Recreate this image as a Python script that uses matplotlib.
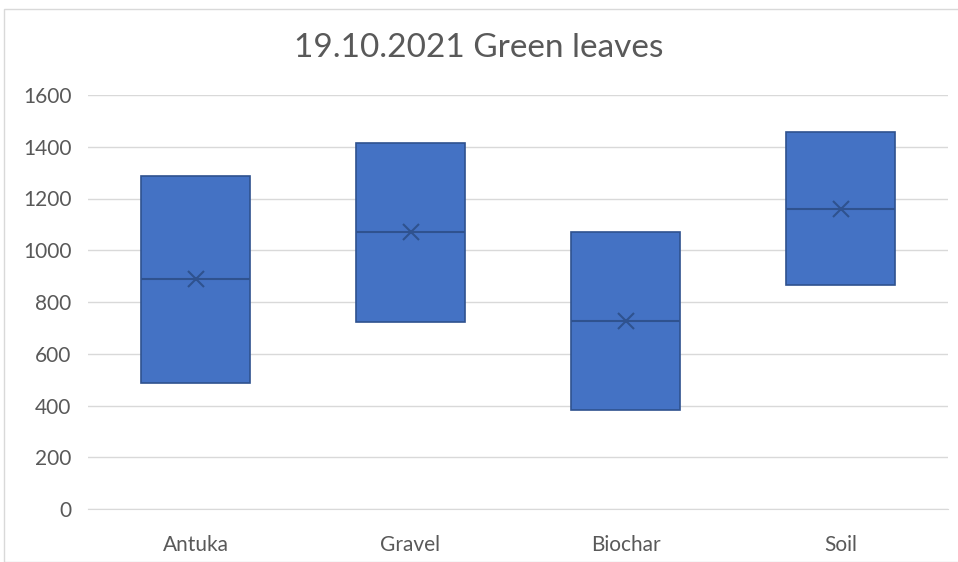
import matplotlib.pyplot as plt
import matplotlib.patches as mpatches

categories = ['Antuka', 'Gravel', 'Biochar', 'Soil']
q1 = [487, 723, 383, 866]
q3 = [1287, 1414, 1071, 1457]
median = [889, 1071, 727, 1159]
mean = [889, 1071, 727, 1159]

plt.rcParams['font.family'] = ['Lato', 'DejaVu Sans']

fig = plt.figure(figsize=(9.58, 5.62), dpi=100)
ax = fig.add_axes([88 / 958, 1 - 509 / 562, 860 / 958, 414 / 562])

stats = []
for i, c in enumerate(categories):
    stats.append({'label': c, 'q1': q1[i], 'q3': q3[i], 'med': median[i], 'mean': mean[i],
                  'whislo': q1[i], 'whishi': q3[i], 'fliers': []})

ax.bxp(stats, positions=range(len(categories)), widths=0.51, patch_artist=True,
       showmeans=True, showcaps=False,
       boxprops=dict(facecolor='#4472C4', edgecolor='#2F528F', linewidth=1.2),
       medianprops=dict(color='#2F528F', linewidth=1.5),
       whiskerprops=dict(linewidth=0),
       meanprops=dict(marker='x', markeredgecolor='#2F528F', markersize=11, markeredgewidth=1.5))

ax.set_xlim(-0.5, 3.5)
ax.set_ylim(0, 1600)
ax.set_yticks(range(0, 1601, 200))
ax.grid(axis='y', color='#D9D9D9', linewidth=1)
ax.set_axisbelow(True)
for s in ['top', 'right', 'left']:
    ax.spines[s].set_visible(False)
ax.spines['bottom'].set_color('#D9D9D9')
ax.tick_params(length=0, labelsize=15, labelcolor='#595959')
ax.tick_params(axis='x', pad=19)
ax.tick_params(axis='y', pad=12)

fig.text(0.5, 1 - 48 / 562, '19.10.2021 Green leaves', ha='center', va='center',
         fontsize=24, color='#595959')

fig.patches.append(mpatches.Rectangle((4 / 958, 0), 1, 1 - 9 / 562, transform=fig.transFigure,
                                      fill=False, edgecolor='#D9D9D9', linewidth=1))

fig.savefig('out.png', dpi=100)
